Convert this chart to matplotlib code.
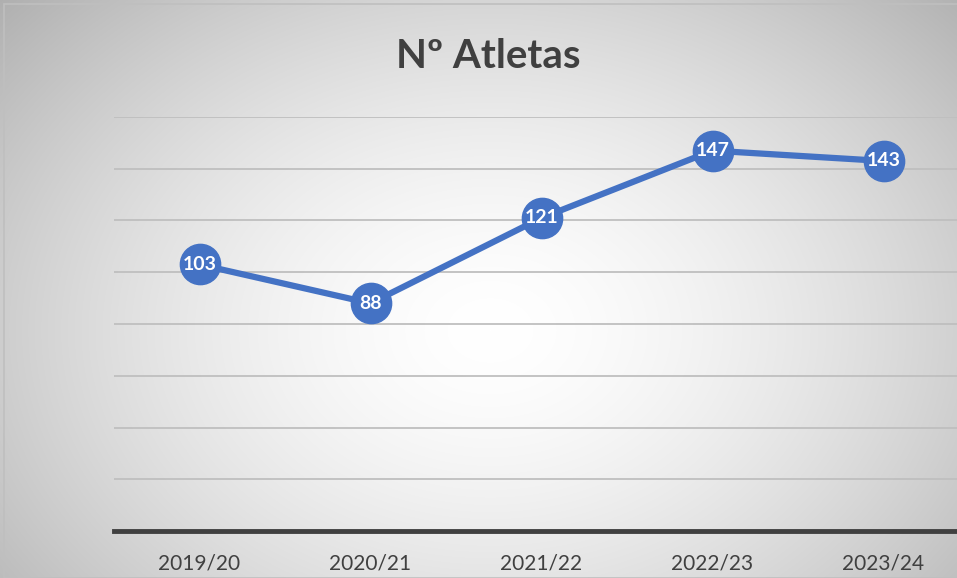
import numpy as np
import matplotlib.pyplot as plt
from matplotlib.patches import Rectangle

plt.rcParams['font.family'] = ['Lato', 'DejaVu Sans']

epocas = ['2019/20', '2020/21', '2021/22', '2022/23', '2023/24']
atletas = [103, 88, 121, 147, 143]
grelha = [20, 40, 60, 80, 100, 120, 140, 160]

azul = '#4472C4'
cinza = '#404040'

fig = plt.figure(figsize=(9.57, 5.78), dpi=100)

# fundo com gradiente radial (estilo Excel)
bg = fig.add_axes([0, 0, 1, 1], zorder=0)
yy, xx = np.mgrid[0:578, 0:957]
r = np.sqrt(((xx - 490) / 560.0) ** 2 + ((yy - 330) / 420.0) ** 2)
val = 1.0 - 0.24 * np.clip(r, 0, 1.2) ** 1.6
bg.imshow(np.dstack([val, val, val]), aspect='auto', extent=[0, 1, 0, 1], origin='upper')
bg.set_xlim(0, 1)
bg.set_ylim(0, 1)
bg.axis('off')
fig.patches.append(Rectangle((0.004, 0.0), 1.0, 0.993, transform=fig.transFigure,
                             fill=False, edgecolor='#bfbfbf', linewidth=1.2, zorder=1))

ax = fig.add_axes([114 / 957, 47 / 578, 855 / 957, 414 / 578], zorder=2)
ax.patch.set_alpha(0)
x = np.arange(len(epocas))
for g in grelha:
    ax.axhline(g, color='#bfbfbf', linewidth=1.3, zorder=1)
ax.plot(x, atletas, color=azul, linewidth=4.5, marker='o', markersize=29,
        markerfacecolor=azul, markeredgecolor=azul, zorder=3, clip_on=False)
for xi, v in zip(x, atletas):
    ax.text(xi, v, str(v), color='white', fontsize=14, fontweight='bold',
            ha='center', va='center', zorder=4)

ax.set_xlim(-0.5, 4.5)
ax.set_ylim(0, 160)
ax.set_yticks([])
ax.set_xticks(x)
ax.set_xticklabels(epocas, fontsize=15, color=cinza)
ax.tick_params(axis='x', length=0, pad=16)
for s in ['top', 'right', 'left']:
    ax.spines[s].set_visible(False)
ax.spines['bottom'].set_color(cinza)
ax.spines['bottom'].set_linewidth(3.5)

fig.text(488 / 957, 1 - 57 / 578, 'Nº Atletas', fontsize=29, fontweight='bold',
         color=cinza, ha='center', va='center')

fig.savefig('out.png', dpi=100)
